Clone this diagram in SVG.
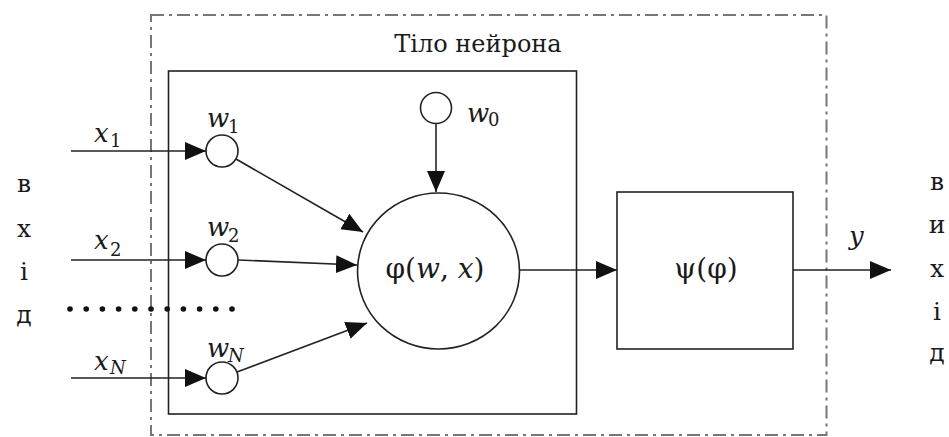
<svg xmlns="http://www.w3.org/2000/svg" width="949" height="437" viewBox="0 0 949 437">
<defs>
<style>
text{font-family:'DejaVu Serif','Liberation Serif',serif;fill:#1a1a1a}
.it{font-style:italic}
.ln{stroke:#222;stroke-width:1.6;fill:none}
.nd{stroke:#222;stroke-width:1.6;fill:#fff}
.sub{font-size:18px}
.lab{font-size:26px}
.side{font-size:25px;text-anchor:middle}
</style>
<marker id="ar" markerUnits="userSpaceOnUse" markerWidth="22" markerHeight="19" refX="21" refY="9" orient="auto">
<path d="M0,0 L21,9 L0,18 z" fill="#111"/>
</marker>
</defs>
<rect width="949" height="437" fill="#fff"/>
<g id="neuron-body-frame">
<rect x="151" y="15" width="675.5" height="420" fill="none" stroke="#777" stroke-width="2" stroke-dasharray="13,5,3,5"/>
<text x="478" y="52" font-size="24" text-anchor="middle">Тіло нейрона</text>
</g>
<g id="inner-body">
<rect x="168.5" y="71" width="408" height="343" class="ln" stroke-width="1.8"/>
</g>
<g id="connectors">
<line class="ln" x1="71" y1="151" x2="206" y2="151" marker-end="url(#ar)"/>
<line class="ln" x1="71" y1="260" x2="206" y2="260" marker-end="url(#ar)"/>
<line class="ln" x1="71" y1="378" x2="206" y2="378" marker-end="url(#ar)"/>
<line class="ln" x1="236" y1="159" x2="363" y2="232" marker-end="url(#ar)"/>
<line class="ln" x1="238" y1="260" x2="357" y2="265" marker-end="url(#ar)"/>
<line class="ln" x1="237" y1="372" x2="367" y2="323" marker-end="url(#ar)"/>
<line class="ln" x1="436" y1="124" x2="436" y2="192" marker-end="url(#ar)"/>
<line class="ln" x1="520" y1="270" x2="617" y2="270" stroke-width="2" marker-end="url(#ar)"/>
<line class="ln" x1="793" y1="270" x2="891" y2="270" stroke-width="2" marker-end="url(#ar)"/>
</g>
<g id="dots" fill="#111">
<circle cx="70" cy="309" r="2.8"/><circle cx="86.2" cy="309" r="2.8"/><circle cx="102.4" cy="309" r="2.8"/><circle cx="118.6" cy="309" r="2.8"/><circle cx="134.8" cy="309" r="2.8"/><circle cx="151" cy="309" r="2.8"/><circle cx="167.2" cy="309" r="2.8"/><circle cx="183.4" cy="309" r="2.8"/><circle cx="199.6" cy="309" r="2.8"/><circle cx="215.8" cy="309" r="2.8"/><circle cx="232" cy="309" r="2.8"/>
</g>
<g id="w1"><circle class="nd" cx="222" cy="151" r="16"/>
<text class="lab"><tspan class="it" x="207" y="127">w</tspan><tspan class="sub" x="228" y="133">1</tspan></text></g>
<g id="w2"><circle class="nd" cx="222" cy="260" r="16"/>
<text class="lab"><tspan class="it" x="207" y="236">w</tspan><tspan class="sub" x="228" y="242">2</tspan></text></g>
<g id="wN"><circle class="nd" cx="222" cy="378" r="16"/>
<text class="lab"><tspan class="it" x="207" y="357">w</tspan><tspan class="sub it" x="228" y="362">N</tspan></text></g>
<g id="w0"><circle class="nd" cx="436" cy="108" r="15.5"/>
<text class="lab"><tspan class="it" x="467" y="122">w</tspan><tspan class="sub" x="488" y="126">0</tspan></text></g>
<g id="x-labels">
<text class="lab"><tspan class="it" x="94" y="142">x</tspan><tspan class="sub" x="110" y="147">1</tspan></text>
<text class="lab"><tspan class="it" x="94" y="249">x</tspan><tspan class="sub" x="110" y="256">2</tspan></text>
<text class="lab"><tspan class="it" x="94" y="370">x</tspan><tspan class="sub it" x="110" y="374">N</tspan></text>
</g>
<g id="summator"><ellipse class="nd" cx="438.5" cy="271" rx="81" ry="78"/>
<text x="435" y="278" font-size="28" text-anchor="middle">φ(<tspan class="it">w</tspan>, <tspan class="it">x</tspan>)</text></g>
<g id="activation"><rect class="nd" x="617" y="192" width="176" height="157" stroke-width="1.8"/>
<text x="706" y="278" font-size="28" text-anchor="middle">ψ(φ)</text></g>
<g id="output-label"><text class="lab it" x="849" y="245">y</text></g>
<g id="input-word">
<text class="side" x="24" y="192">в</text>
<text class="side" x="24" y="237">х</text>
<text class="side" x="24" y="280">і</text>
<text class="side" x="24" y="323">д</text>
</g>
<g id="output-word">
<text class="side" x="937" y="190">в</text>
<text class="side" x="937" y="233">и</text>
<text class="side" x="937" y="277">х</text>
<text class="side" x="937" y="320">і</text>
<text class="side" x="937" y="361">д</text>
</g>
</svg>
